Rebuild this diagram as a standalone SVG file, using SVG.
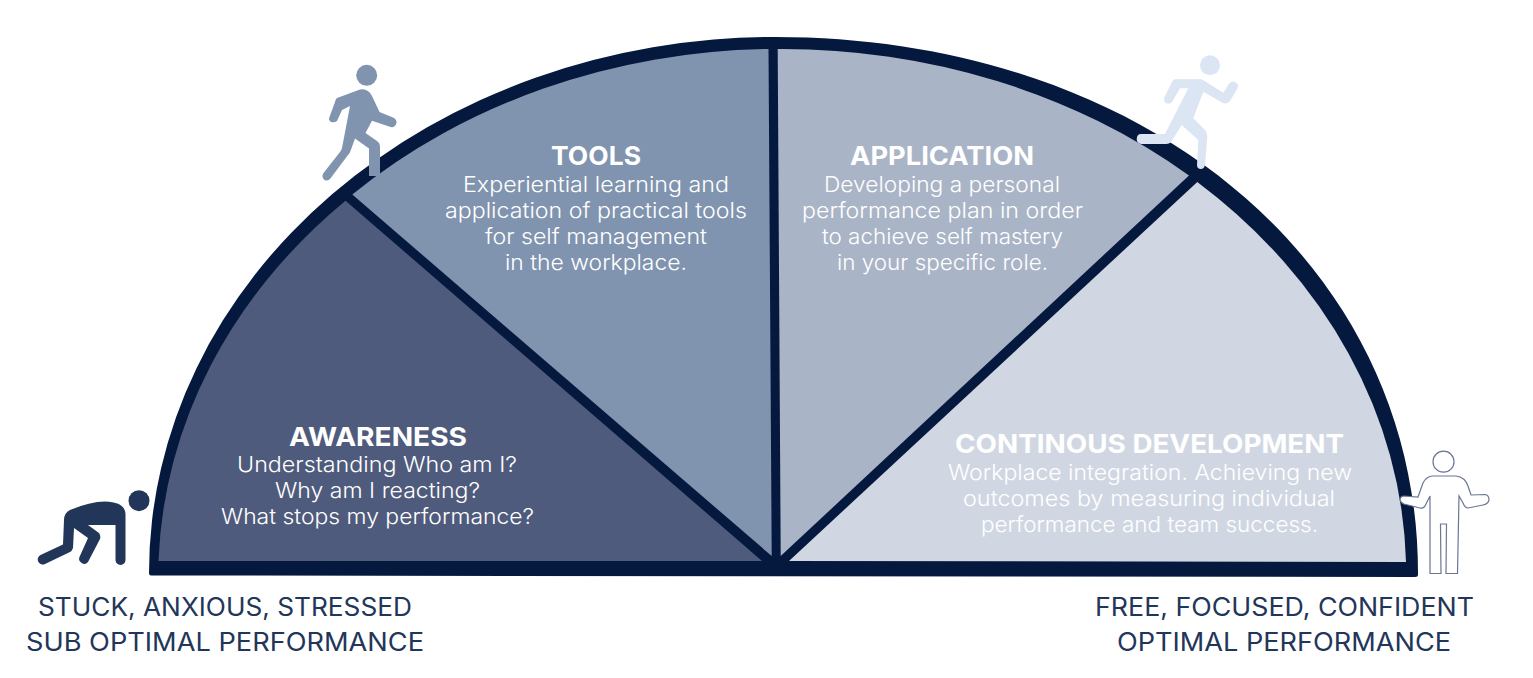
<svg xmlns="http://www.w3.org/2000/svg" width="1533" height="678" viewBox="0 0 1533 678">
<style>
text{font-family:"Inter","Open Sans","Liberation Sans",sans-serif;text-anchor:start}
.t{fill:#fff;font-size:26px;font-weight:700}
.b{fill:#fff;font-size:22px;font-weight:300}
.c{fill:#223659;font-size:25px;font-weight:400}
</style>
<rect width="1533" height="678" fill="#fff"/>
<g id="dome">
<path fill="#04193d" d="M151,575.500Q149,575.500 149,573A626,536 0 0 1 775,37C1144.700,37 1418,264 1418,573L1418,574.500Q1418,577 1415,577Z"/>
</g>
<g id="awareness">
<path fill="#4f5b7c" d="M158.500,561A617,525 0 0 1 345.500,200.700L762,561Z"/>
<text class="t" x="289" y="446" textLength="178" lengthAdjust="spacingAndGlyphs">AWARENESS</text>
<text class="b" x="237" y="472" textLength="280" lengthAdjust="spacingAndGlyphs">Understanding Who am I?</text>
<text class="b" x="275" y="498" textLength="205" lengthAdjust="spacingAndGlyphs">Why am I reacting?</text>
<text class="b" x="221" y="524" textLength="313" lengthAdjust="spacingAndGlyphs">What stops my performance?</text>
</g>
<g id="tools">
<path fill="#8094af" d="M352.300,194.500A617,525 0 0 1 768.500,49L771.700,556Z"/>
<text class="t" x="551" y="165" textLength="90" lengthAdjust="spacingAndGlyphs">TOOLS</text>
<text class="b" x="463" y="192" textLength="266" lengthAdjust="spacingAndGlyphs">Experiential learning and</text>
<text class="b" x="445" y="218" textLength="302" lengthAdjust="spacingAndGlyphs">application of practical tools</text>
<text class="b" x="485" y="244" textLength="222" lengthAdjust="spacingAndGlyphs">for self management</text>
<text class="b" x="505" y="270" textLength="182" lengthAdjust="spacingAndGlyphs">in the workplace.</text>
</g>
<g id="application">
<path fill="#aab4c7" d="M777.700,49A625,525 0 0 1 1189,175.500L780.700,556Z"/>
<text class="t" x="850" y="165" textLength="184" lengthAdjust="spacingAndGlyphs">APPLICATION</text>
<text class="b" x="824" y="192" textLength="236" lengthAdjust="spacingAndGlyphs">Developing a personal</text>
<text class="b" x="802" y="218" textLength="281" lengthAdjust="spacingAndGlyphs">performance plan in order</text>
<text class="b" x="822" y="244" textLength="241" lengthAdjust="spacingAndGlyphs">to achieve self mastery</text>
<text class="b" x="837" y="270" textLength="211" lengthAdjust="spacingAndGlyphs">in your specific role.</text>
</g>
<g id="continuous-development">
<path fill="#d1d7e2" d="M1197.300,182A625,525 0 0 1 1406,562L789,561Z"/>
<text class="t" x="955" y="453" textLength="389" lengthAdjust="spacingAndGlyphs">CONTINOUS DEVELOPMENT</text>
<text class="b" x="948" y="480" textLength="404" lengthAdjust="spacingAndGlyphs">Workplace integration. Achieving new</text>
<text class="b" x="963" y="506" textLength="372" lengthAdjust="spacingAndGlyphs">outcomes by measuring individual</text>
<text class="b" x="981" y="532" textLength="337" lengthAdjust="spacingAndGlyphs">performance and team success.</text>
</g>
<g id="figure-crouching" fill="#223659">
<circle cx="139" cy="500.700" r="10.500"/>
<path d="M64,520Q64,513 70,510Q90,501.500 105,501.500Q125,502 125.500,514L125.500,560A5,5 0 0 1 115.500,560L115.500,525L88,525L99,533Q101,536 100,539L88,562A5,5 0 0 1 79.500,557L88,538L74,528L73,548Q72,551 70,552L45,564A5,5 0 0 1 40.500,555L63,544.500Z"/>
</g>
<g id="figure-walking" fill="#8094af">
<circle cx="366.700" cy="75.300" r="10.500"/>
<path d="M337,98L360,89.500Q368,88 372,96L379.500,112L393,117.500Q397,119.500 396.500,123Q395,128 390.500,127L372,120.700L365.500,133L377,141Q380,143 380,147L380,176L369,176L369,148.500L355,138.500L350.500,151Q350,153 348,155L330,179Q326,182 323.500,179Q321.500,176 323.500,173L340,152Q341.500,150 342,148L350,106L342,110L337,121Q334,123 331,122Q328,120 329.500,117L335,102Q335.500,99 337,98Z"/>
</g>
<g id="figure-running" fill="#dce5f3">
<circle cx="1210" cy="65.300" r="10"/>
<path d="M1175,79.300L1201.700,79.300L1223.300,92.700L1229.300,83.300Q1233,80 1236,82.500Q1239,85 1237.700,88L1230,101Q1227,105 1222,102.500L1203.300,91.700L1193.300,118.300L1205,130Q1207.500,133 1207.300,137L1205,165Q1204,169 1201,169Q1197,169 1197,165L1198.300,140L1181.700,125L1171.700,141Q1170,144 1166,144L1141,144Q1136.700,143 1136.700,139Q1137,134 1141,134L1165,134L1188.300,88.300L1180,88.300L1172,102Q1169,105 1166,103Q1163,101 1164.500,97L1172,82Q1173,79.500 1175,79.300Z"/>
</g>
<g id="figure-standing" fill="#fff" stroke="#6b7693" stroke-width="1.200">
<circle cx="1443.500" cy="461.700" r="10.500"/>
<path d="M1432,476L1456,476Q1465,477 1468,486L1471,495L1485,494.500Q1489,495 1489,500Q1488,504 1483,505L1468,508Q1465,508 1463,503L1459,496L1457.500,573.500L1446,573.500L1446.500,524L1440.500,524L1441,573.500L1430,573.500L1430,496L1426,504Q1424,509 1420,508L1404,504Q1400,502 1400,499Q1401,496 1404,496L1418,497L1423,483Q1426,477 1432,476Z"/>
</g>
<g id="label-left">
<text class="c" x="38" y="616" textLength="374" lengthAdjust="spacingAndGlyphs">STUCK, ANXIOUS, STRESSED</text>
<text class="c" x="26" y="651" textLength="398" lengthAdjust="spacingAndGlyphs">SUB OPTIMAL PERFORMANCE</text>
</g>
<g id="label-right">
<text class="c" x="1095" y="616" textLength="379" lengthAdjust="spacingAndGlyphs">FREE, FOCUSED, CONFIDENT</text>
<text class="c" x="1117" y="651" textLength="334" lengthAdjust="spacingAndGlyphs">OPTIMAL PERFORMANCE</text>
</g>
<g id="connectors"/>
</svg>
